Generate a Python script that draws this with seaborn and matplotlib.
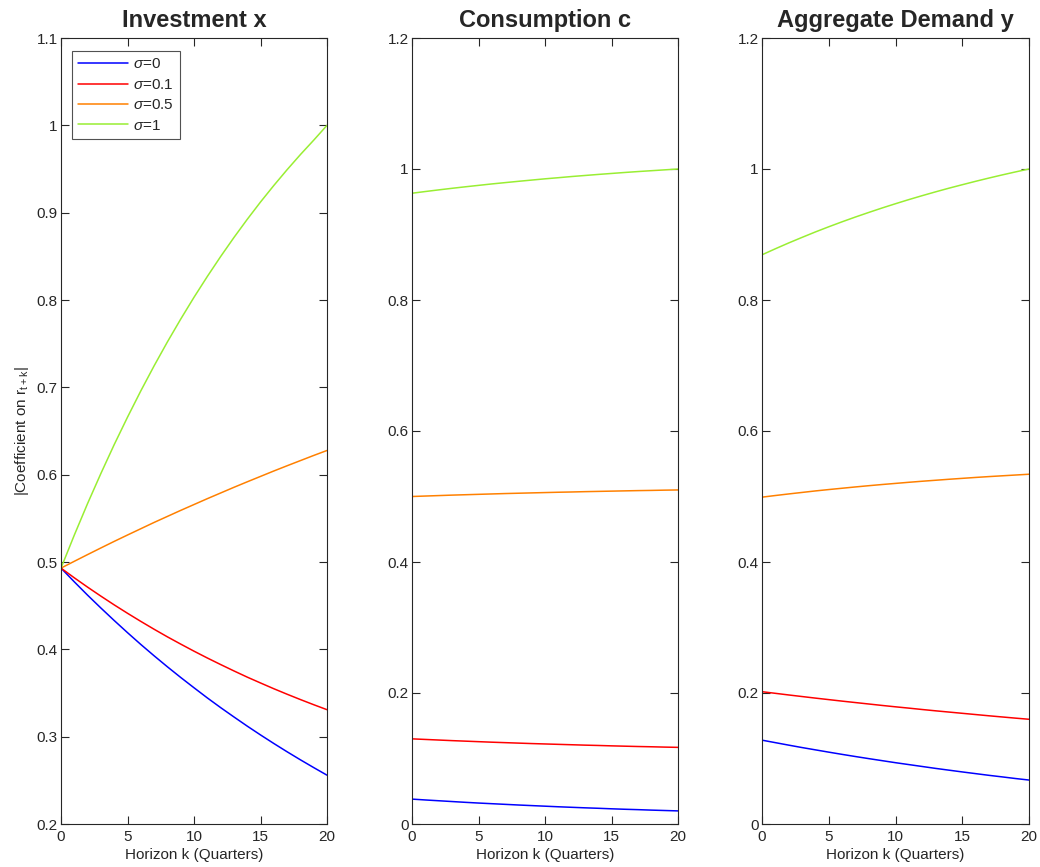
import numpy as np
import pandas as pd
import matplotlib
matplotlib.use("Agg")
import matplotlib.pyplot as plt
import seaborn as sns
from matplotlib.ticker import FuncFormatter

# ---------------- data ----------------
horizon = list(range(0, 21))
sigma_labels = [r"$\sigma$=0", r"$\sigma$=0.1", r"$\sigma$=0.5", r"$\sigma$=1"]

# Investment x
inv_s0 = [0.493, 0.4773, 0.4620, 0.4473, 0.4330, 0.4191, 0.4056, 0.3926, 0.3800, 0.3678, 0.3560,
          0.3444, 0.3333, 0.3226, 0.3121, 0.3020, 0.2922, 0.2827, 0.2735, 0.2646, 0.2559]
inv_s01 = [0.493, 0.4819, 0.4712, 0.4609, 0.4509, 0.4413, 0.4320, 0.4230, 0.4143, 0.4060, 0.3979,
           0.3901, 0.3826, 0.3753, 0.3682, 0.3615, 0.3549, 0.3486, 0.3425, 0.3366, 0.3309]
inv_s05 = [0.493, 0.5008, 0.5085, 0.5161, 0.5236, 0.5309, 0.5381, 0.5453, 0.5522, 0.5591, 0.5658,
           0.5725, 0.5790, 0.5855, 0.5918, 0.5980, 0.6042, 0.6102, 0.6161, 0.6220, 0.6277]
inv_s1 = [0.493, 0.5308, 0.5670, 0.6014, 0.6344, 0.6658, 0.6959, 0.7246, 0.7520, 0.7781, 0.8031,
          0.8269, 0.8497, 0.8715, 0.8923, 0.9122, 0.9311, 0.9492, 0.9665, 0.9830, 1.0000]

# Consumption c
con_s0 = [0.0380, 0.0367, 0.0355, 0.0343, 0.0331, 0.0320, 0.0310, 0.0300, 0.0290, 0.0281, 0.0272,
          0.0263, 0.0255, 0.0247, 0.0240, 0.0232, 0.0225, 0.0219, 0.0212, 0.0206, 0.0200]
con_s01 = [0.1300, 0.1291, 0.1282, 0.1273, 0.1265, 0.1257, 0.1249, 0.1242, 0.1235, 0.1228, 0.1222,
           0.1216, 0.1210, 0.1204, 0.1199, 0.1193, 0.1188, 0.1183, 0.1179, 0.1174, 0.1170]
con_s05 = [0.5000, 0.5007, 0.5014, 0.5021, 0.5027, 0.5033, 0.5039, 0.5045, 0.5050, 0.5055, 0.5060,
           0.5065, 0.5069, 0.5074, 0.5078, 0.5082, 0.5086, 0.5090, 0.5093, 0.5097, 0.5100]
con_s1 = [0.9630, 0.9656, 0.9681, 0.9705, 0.9728, 0.9750, 0.9772, 0.9792, 0.9812, 0.9831, 0.9850,
          0.9867, 0.9885, 0.9901, 0.9917, 0.9932, 0.9947, 0.9961, 0.9974, 0.9987, 1.0000]

# Aggregate Demand y
agg_s0 = [0.1280, 0.1242, 0.1204, 0.1167, 0.1132, 0.1097, 0.1063, 0.1030, 0.0998, 0.0967, 0.0936,
          0.0907, 0.0878, 0.0849, 0.0822, 0.0795, 0.0769, 0.0743, 0.0719, 0.0694, 0.0671]
agg_s01 = [0.2020, 0.1995, 0.1970, 0.1946, 0.1922, 0.1899, 0.1876, 0.1854, 0.1832, 0.1810, 0.1789,
           0.1769, 0.1748, 0.1728, 0.1709, 0.1690, 0.1671, 0.1652, 0.1634, 0.1616, 0.1599]
agg_s05 = [0.4990, 0.5015, 0.5039, 0.5062, 0.5085, 0.5106, 0.5126, 0.5146, 0.5165, 0.5183, 0.5200,
           0.5217, 0.5233, 0.5248, 0.5263, 0.5277, 0.5291, 0.5304, 0.5316, 0.5328, 0.5340]
agg_s1 = [0.8690, 0.8782, 0.8871, 0.8956, 0.9039, 0.9118, 0.9194, 0.9267, 0.9337, 0.9405, 0.9470,
          0.9533, 0.9593, 0.9651, 0.9707, 0.9760, 0.9812, 0.9862, 0.9910, 0.9956, 1.0000]

titles = ["Investment x", "Consumption c", "Aggregate Demand y"]
x_ticks = [0, 5, 10, 15, 20]
y_ticks_inv = [0.2, 0.3, 0.4, 0.5, 0.6, 0.7, 0.8, 0.9, 1.0, 1.1]
y_ticks_other = [0, 0.2, 0.4, 0.6, 0.8, 1.0, 1.2]

# ---------------- style ----------------
sns.set_style("ticks")
plt.rcParams["font.family"] = ["Liberation Sans", "DejaVu Sans"]
plt.rcParams["mathtext.fontset"] = "custom"
plt.rcParams["mathtext.rm"] = "Liberation Sans"
plt.rcParams["mathtext.it"] = "Liberation Sans:italic"
plt.rcParams["mathtext.bf"] = "Liberation Sans:bold"

colors = ["#0000ff", "#ff0000", "#ff8000", "#99ee33"]
edge = "#262626"

fig = plt.figure(figsize=(10.4, 8.67), dpi=100)
positions = [
    [61 / 1040, 43 / 867, 266 / 1040, 786 / 867],
    [412 / 1040, 43 / 867, 266 / 1040, 786 / 867],
    [762 / 1040, 43 / 867, 267 / 1040, 786 / 867],
]

panels = [
    (inv_s0, inv_s01, inv_s05, inv_s1),
    (con_s0, con_s01, con_s05, con_s1),
    (agg_s0, agg_s01, agg_s05, agg_s1),
]

for i, (pos, series) in enumerate(zip(positions, panels)):
    ax = fig.add_axes(pos)
    for j, vals in enumerate(series):
        df = pd.DataFrame({"k": horizon, "v": vals})
        sns.lineplot(data=df, x="k", y="v", ax=ax, color=colors[j], lw=1.1,
                     label=sigma_labels[j] if i == 0 else None, legend=False)
    ax.set_xlim(0, 20)
    ax.set_xticks(x_ticks)
    if i == 0:
        ax.set_ylim(0.2, 1.1)
        ax.set_yticks(y_ticks_inv)
        ax.set_ylabel(r"|Coefficient on r$_{\mathrm{t+k}}$|", fontsize=11, color=edge, labelpad=4)
    else:
        ax.set_ylim(0, 1.2)
        ax.set_yticks(y_ticks_other)
        ax.set_ylabel("")
    ax.yaxis.set_major_formatter(FuncFormatter(lambda v, p: f"{v:g}"))
    ax.set_xlabel("Horizon k (Quarters)", fontsize=11, color=edge, labelpad=3)
    ax.set_title(titles[i], fontsize=17, fontweight="bold", pad=8)
    ax.tick_params(direction="in", length=6, width=0.8, top=True, right=True,
                   labelsize=11, colors=edge)
    ax.tick_params(axis="y", pad=2.5)
    ax.tick_params(axis="x", pad=4.5)
    for s in ax.spines.values():
        s.set_visible(True)
        s.set_color(edge)
        s.set_linewidth(0.8)
    if i == 0:
        leg = ax.legend(loc="upper left", bbox_to_anchor=(0.04, 0.983), fontsize=11,
                        frameon=True, fancybox=False, edgecolor=edge, handlelength=3.3,
                        borderpad=0.4, labelspacing=0.42, handletextpad=0.3, borderaxespad=0)
        leg.get_frame().set_linewidth(0.8)

fig.savefig("out.png", dpi=100)
